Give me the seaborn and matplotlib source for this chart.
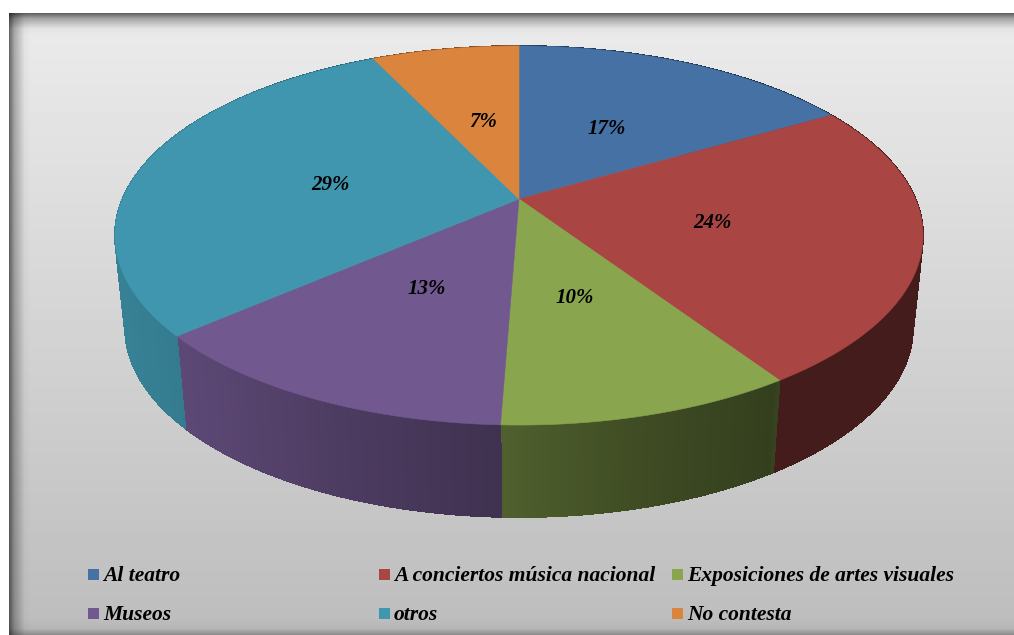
import numpy as np
import matplotlib
matplotlib.use('Agg')
import matplotlib.pyplot as plt
from matplotlib.collections import PolyCollection
from matplotlib.patches import Polygon, Rectangle
import seaborn as sns

categories = ['Al teatro', 'A conciertos música nacional', 'Exposiciones de artes visuales',
              'Museos', 'otros', 'No contesta']
shares = [16.6, 24.1, 9.9, 13.0, 29.3, 7.1]
share_labels = ['17%', '24%', '10%', '13%', '29%', '7%']
slice_colors = ['#4571a5', '#a94543', '#89a54e', '#71588f', '#4096ae', '#db843d']

# layout, in pixels of the 1014x635 picture
label_xy = [(607, 129), (712, 223), (575, 298), (427, 289), (330, 185), (483, 122)]
legend_cols = [88, 379, 672]
legend_rows = [575, 614]
CX, CY = 519, 199
A, B, K = 396.5, 182.5, 0.1926
DEPTH = 92
SHRINK = 0.975

sns.set_theme(style='white')
plt.rcParams['font.family'] = ['Liberation Serif', 'DejaVu Serif']
palette = sns.color_palette(slice_colors)


def project(theta, r=1.0):
    # disc seen in perspective, theta clockwise from the top
    u, v = r * np.sin(theta), r * np.cos(theta)
    d = 1 + K * v
    return CX + A * u / d, CY - B * v / d


def background():
    h, w = 635, 1014
    y = np.arange(h)[:, None]
    x = np.arange(w)[None, :]
    grey = np.interp(y, [25, 630], [0.92, 0.74])
    left = np.interp(x, [9, 14, 24, 30], [0.45, 0.72, 0.97, 1.0])
    top = np.interp(y, [13, 18, 28, 36], [0.42, 0.70, 0.97, 1.0])
    bottom = np.interp(y, [618, 628, 635], [1.0, 0.96, 0.72])
    img = grey * left * top * bottom
    img[:13, :] = 1.0
    img[:, :9] = 1.0
    return img


fig = plt.figure(figsize=(10.14, 6.35), dpi=100)
ax = fig.add_axes([0, 0, 1, 1])
ax.imshow(background(), cmap='gray', vmin=0, vmax=1, extent=(0, 1014, 635, 0),
          aspect='auto', interpolation='nearest')
ax.set_xlim(0, 1014)
ax.set_ylim(635, 0)
ax.axis('off')

edges = np.cumsum([0] + shares) / sum(shares) * 2 * np.pi

# side wall first, shaded darker from left to right
shade_x = [115, 180, 340, 499, 500, 640, 775, 776, 925]
shade_y = [0.86, 0.82, 0.68, 0.56, 0.58, 0.46, 0.38, 0.40, 0.40]
for start, stop, color in zip(edges[:-1], edges[1:], palette):
    t = np.linspace(start, stop, 160)
    x, y = project(t)
    xb = CX + (x - CX) * SHRINK
    yb = y + DEPTH
    quads = [[(x[i], y[i]), (x[i + 1], y[i + 1]), (xb[i + 1], yb[i + 1]), (xb[i], yb[i])]
             for i in range(len(t) - 1)]
    mid = (x[:-1] + x[1:]) / 2
    cols = [tuple(np.array(color) * s) for s in np.interp(mid, shade_x, shade_y)]
    ax.add_collection(PolyCollection(quads, facecolors=cols, edgecolors=cols, linewidths=0.6,
                                     antialiased=False))

# top of the pie
for start, stop, color in zip(edges[:-1], edges[1:], palette):
    t = np.linspace(start, stop, 200)
    x, y = project(t)
    pts = np.column_stack([np.r_[CX, x], np.r_[CY, y]])
    ax.add_patch(Polygon(pts, closed=True, facecolor=color, edgecolor=color, linewidth=0.4))

for text, (lx, ly) in zip(share_labels, label_xy):
    ax.text(lx, ly, text, ha='center', va='center', fontsize=15, style='italic',
            fontweight='bold', color='black')

# legend, filled row by row
for i, name in enumerate(categories):
    lx = legend_cols[i % 3]
    ly = legend_rows[i // 3]
    ax.add_patch(Rectangle((lx, ly - 6), 11, 11, facecolor=palette[i], edgecolor='none'))
    ax.text(lx + 15, ly + 1, name, ha='left', va='center', fontsize=15.5, style='italic',
            fontweight='bold', color='black')

fig.savefig('out.png', dpi=100)
plt.close(fig)
